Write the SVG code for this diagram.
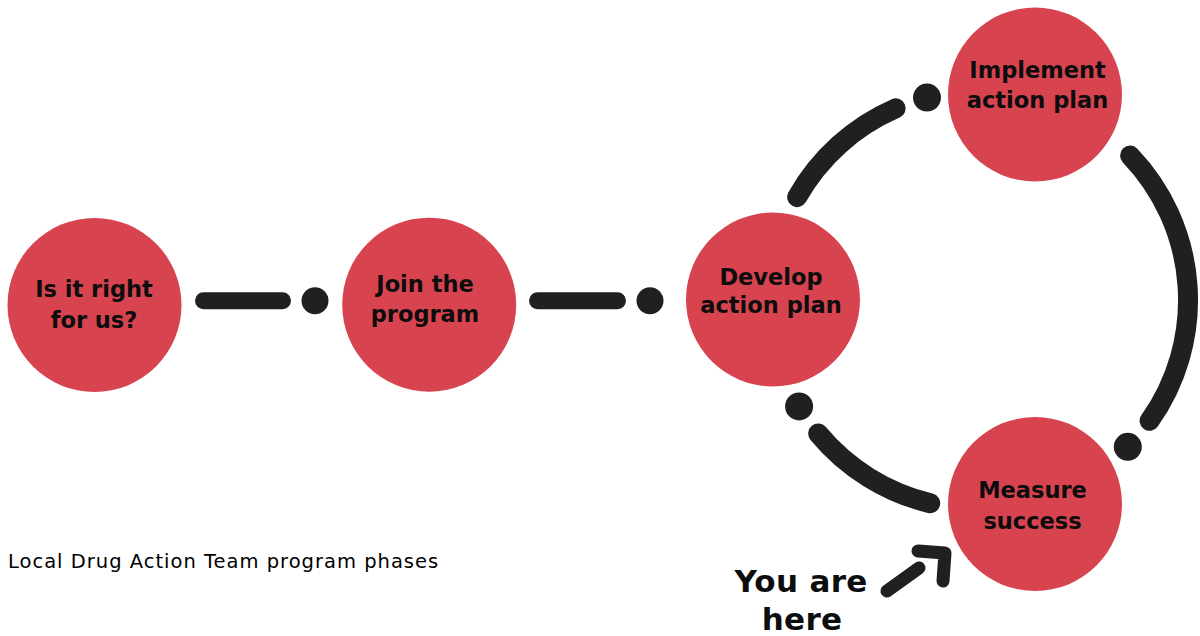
<svg xmlns="http://www.w3.org/2000/svg" width="1200" height="636" viewBox="0 0 1200 636">
  <style>
    .node { fill: #d7434f; }
    .lbl { font-family: "DejaVu Sans", "Liberation Sans", sans-serif; font-weight: 700; font-size: 22.5px; fill: #0d0d0d; text-anchor: middle; }
    .line { stroke: #221f1f; stroke-width: 17; stroke-linecap: round; fill: none; }
    .arc { stroke: #221f1f; stroke-width: 20; stroke-linecap: round; fill: none; }
    .dot { fill: #221f1f; }
    .here { font-family: "DejaVu Sans", "Liberation Sans", sans-serif; font-weight: 700; font-size: 31px; letter-spacing: 0.3px; fill: #0d0d0d; text-anchor: middle; }
    .title { font-family: "DejaVu Sans", "Liberation Sans", sans-serif; font-size: 19.5px; letter-spacing: 1px; fill: #000000; }
    .arrow { stroke: #221f1f; stroke-width: 13; stroke-linecap: round; stroke-linejoin: round; fill: none; }
  </style>
  <rect width="1200" height="636" fill="#ffffff"/>

  <g id="connectors">
    <line class="line" x1="203.5" y1="300.7" x2="282.5" y2="300.7"/>
    <circle class="dot" cx="315" cy="300.7" r="13.5"/>
    <line class="line" x1="537.5" y1="300.7" x2="617.5" y2="300.7"/>
    <circle class="dot" cx="650" cy="300.7" r="13.5"/>
    <path class="arc" d="M797.1,197.1 A209,209 0 0 1 895.7,108.4"/>
    <circle class="dot" cx="927" cy="97.6" r="14"/>
    <path class="arc" d="M1130.1,155.6 A209,209 0 0 1 1149.6,420.8"/>
    <circle class="dot" cx="1127.8" cy="446.8" r="14"/>
    <path class="arc" d="M818.2,433.5 A209,209 0 0 0 930.2,503.2"/>
    <circle class="dot" cx="799.1" cy="406.4" r="14"/>
  </g>

  <g id="node-right-for-us">
    <circle class="node" cx="94.5" cy="305" r="87"/>
    <text class="lbl" x="94" y="297.3">Is it right</text>
    <text class="lbl" x="94" y="328.3">for us?</text>
  </g>
  <g id="node-join">
    <circle class="node" cx="429.2" cy="304.7" r="87"/>
    <text class="lbl" x="425" y="291.7">Join the</text>
    <text class="lbl" x="425" y="321.7">program</text>
  </g>
  <g id="node-develop">
    <circle class="node" cx="773" cy="299.5" r="87"/>
    <text class="lbl" x="771" y="285">Develop</text>
    <text class="lbl" x="771" y="313.3">action plan</text>
  </g>
  <g id="node-implement">
    <circle class="node" cx="1035" cy="94.5" r="87"/>
    <text class="lbl" x="1037.5" y="78.3">Implement</text>
    <text class="lbl" x="1037.5" y="108.3">action plan</text>
  </g>
  <g id="node-measure">
    <circle class="node" cx="1035" cy="504" r="87"/>
    <text class="lbl" x="1032.5" y="498.3">Measure</text>
    <text class="lbl" x="1032.5" y="529.3">success</text>
  </g>

  <g id="you-are-here">
    <line class="arrow" x1="887" y1="591" x2="919" y2="568"/>
    <polyline class="arrow" points="918,551 945,553 943,581"/>
    <text class="here" x="801" y="592">You are</text>
    <text class="here" x="802" y="629.5">here</text>
  </g>

  <text class="title" x="8" y="568.3">Local Drug Action Team program phases</text>
</svg>
